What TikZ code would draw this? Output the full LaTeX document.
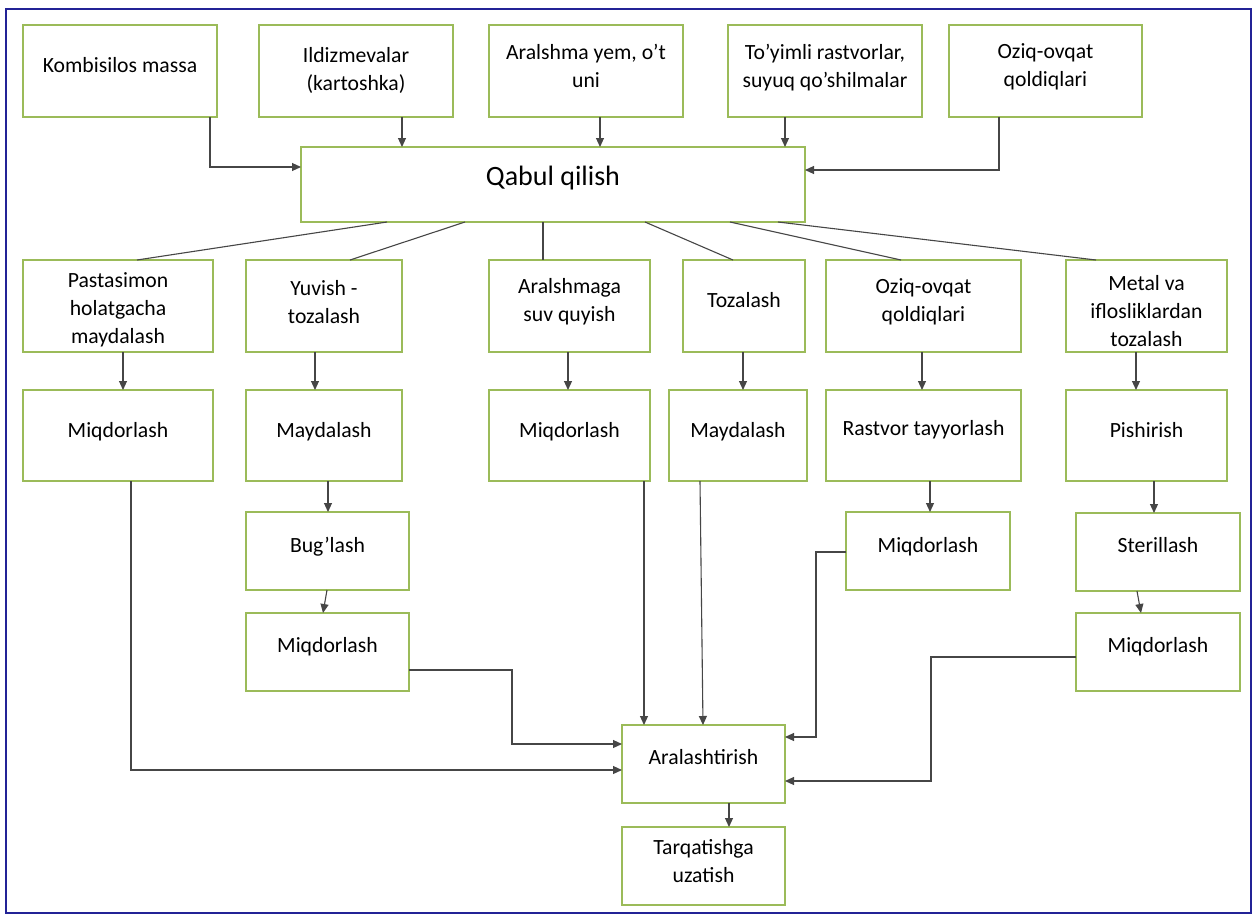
\documentclass[tikz,border=0pt]{standalone}
\usepackage{fontspec}
\setmainfont{Carlito}
\usetikzlibrary{arrows.meta}

\definecolor{frameblue}{RGB}{35,35,150}
\definecolor{boxgreen}{RGB}{155,187,89}
\definecolor{wire}{RGB}{70,70,70}

\tikzset{
  cellbox/.style={draw=boxgreen, line width=1.8pt, inner sep=0pt, outer sep=0pt,
    fill=white, font=\fontsize{21.7}{28}\selectfont},
  link/.style={draw=wire, line width=1.1pt},
  arr/.style={link, -{Triangle[length=9pt,width=8pt]}},
}

% \cell[style]{name}{x1}{x2}{y1}{y2}{first baseline below top}{text}
\newcommand\cell[8][]{%
  \node[cellbox,#1] (#2) at ({(#3+#4)/2},{(#5+#6)/2})
  {\parbox[c][\dimexpr#6pt-#5pt\relax][t]{\dimexpr#4pt-#3pt\relax}{%
     \centering\vspace*{\dimexpr#7pt-0.7\baselineskip\relax}\strut #8\par}};}

\begin{document}
\begin{tikzpicture}[x=1pt,y=-1pt]
\useasboundingbox (0,0) rectangle (1254,916);
\fill[white] (0,0) rectangle (1254,916);
\draw[frameblue, line width=1.6pt] (6,9) rectangle (1251,913);

% sources
\cell{k}{23}{217}{25}{117}{47}{Kombisilos massa}
\cell{il}{259}{453}{25}{117}{37}{Ildizmevalar\\(kartoshka)}
\cell{ar}{489}{683}{25}{117}{34}{Aralshma yem, o’t\\uni}
\cell{ty}{728}{922}{25}{117}{34}{To’yimli rastvorlar,\\suyuq qo’shilmalar}
\cell{oz}{949}{1142}{25}{117}{33}{Oziq-ovqat\\qoldiqlari}
\cell[font=\fontsize{28}{34}\selectfont]{qb}{301}{805}{147}{222}{38}{Qabul qilish}

% first treatment step
\cell{pa}{23}{213}{260}{352}{27}{Pastasimon\\holatgacha\\maydalash}
\cell{yu}{246}{402}{260}{352}{35}{Yuvish -\\tozalash}
\cell{as}{489}{650}{260}{352}{33}{Aralshmaga\\suv quyish}
\cell{to}{683}{805}{260}{352}{47}{Tozalash}
\cell{oq}{826}{1021}{260}{352}{33}{Oziq-ovqat\\qoldiqlari}
\cell{me}{1066}{1227}{260}{352}{30}{Metal va\\iflosliklardan\\tozalash}

% second step
\cell{mq1}{23}{213}{390}{481}{47}{Miqdorlash}
\cell{md1}{246}{402}{390}{481}{47}{Maydalash}
\cell{mq2}{489}{650}{390}{481}{47}{Miqdorlash}
\cell{md2}{669}{807}{390}{481}{47}{Maydalash}
\cell{rt}{826}{1021}{390}{481}{45}{Rastvor tayyorlash}
\cell{pi}{1066}{1227}{390}{481}{47}{Pishirish}

% further steps
\cell{bu}{246}{409}{512}{590}{40}{Bug’lash}
\cell{mq3}{246}{409}{613}{691}{39}{Miqdorlash}
\cell{mq4}{846}{1010}{512}{590}{40}{Miqdorlash}
\cell{st}{1076}{1240}{513}{591}{39}{Sterillash}
\cell{mq5}{1076}{1240}{613}{691}{39}{Miqdorlash}
\cell{mix}{622}{785}{725}{803}{39}{Aralashtirish}
\cell{tq}{622}{785}{827}{905}{27}{Tarqatishga\\uzatish}

% sources into reception
\draw[arr] (k.south -| 210,0) |- (qb.west |- 0,167);
\draw[arr] (il.south -| 402,0) -- (qb.north -| 402,0);
\draw[arr] (ar.south -| 600,0) -- (qb.north -| 600,0);
\draw[arr] (ty.south -| 785,0) -- (qb.north -| 785,0);
\draw[arr] (oz.south -| 999,0) |- (qb.east |- 0,170);

% reception fans out
\draw[link] (qb.south -| 387,0) -- (pa.north -| 137,0);
\draw[link] (qb.south -| 465,0) -- (yu.north -| 350,0);
\draw[link] (qb.south -| 543,0) -- (as.north -| 543,0);
\draw[link] (qb.south -| 645,0) -- (to.north -| 733,0);
\draw[link] (qb.south -| 730,0) -- (oq.north -| 901,0);
\draw[link] (qb.south -| 778,0) -- (me.north -| 1096,0);

% first to second step
\draw[arr] (pa.south -| 123,0) -- (mq1.north -| 123,0);
\draw[arr] (yu.south -| 315,0) -- (md1.north -| 315,0);
\draw[arr] (as.south -| 568,0) -- (mq2.north -| 568,0);
\draw[arr] (to.south -| 743,0) -- (md2.north -| 743,0);
\draw[arr] (oq.south -| 922,0) -- (rt.north -| 922,0);
\draw[arr] (me.south -| 1136,0) -- (pi.north -| 1136,0);

% chains below
\draw[arr] (md1.south -| 328,0) -- (bu.north -| 328,0);
\draw[arr] (bu.south -| 327,0) -- (mq3.north -| 323,0);
\draw[arr] (rt.south -| 930,0) -- (mq4.north -| 930,0);
\draw[arr] (pi.south -| 1154,0) -- (st.north -| 1154,0);
\draw[arr] (st.south -| 1137,0) -- (mq5.north -| 1141,0);

% into mixing
\draw[arr] (mq1.south -| 131,0) |- (mix.west |- 0,770);
\draw[arr] (mq3.east |- 0,670) -| (512,744) -- (mix.west |- 0,744);
\draw[arr] (mq2.south -| 644,0) -- (mix.north -| 644,0);
\draw[arr] (md2.south -| 700,0) -- (mix.north -| 703,0);
\draw[arr] (mq4.west |- 0,552) -| (816,737) -- (mix.east |- 0,737);
\draw[arr] (mq5.west |- 0,657) -| (931,781) -- (mix.east |- 0,781);
\draw[arr] (mix.south -| 729,0) -- (tq.north -| 729,0);
\end{tikzpicture}
\end{document}
